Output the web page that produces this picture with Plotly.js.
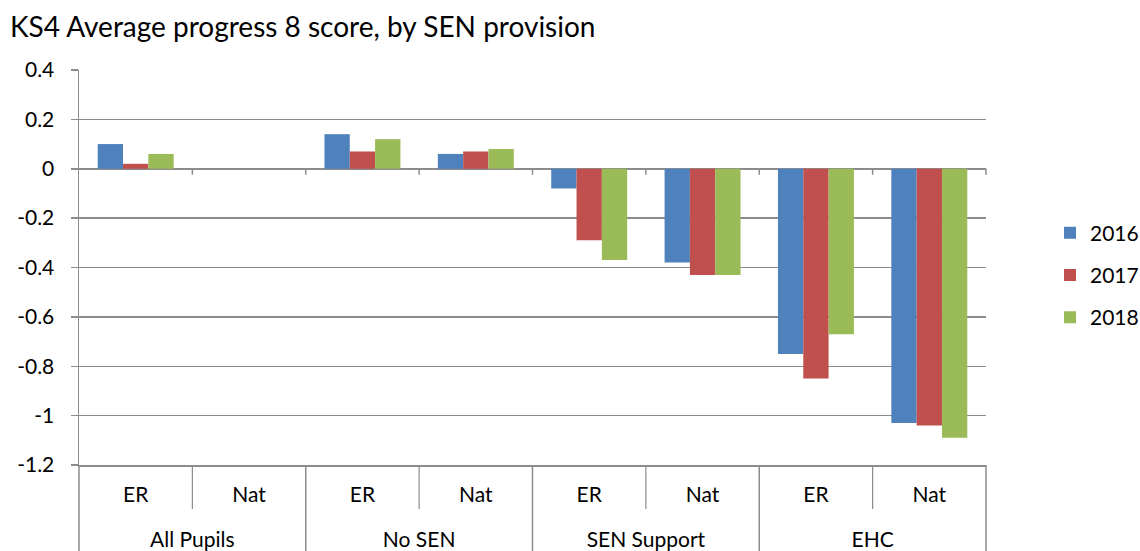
<!DOCTYPE html>
<html>
<head>
<meta charset="utf-8">
<script src="https://cdn.plot.ly/plotly-3.0.1.min.js"></script>
<style>html,body{margin:0;padding:0;background:#fff;}#chart{width:1140px;height:551px;}</style>
</head>
<body>
<div id="chart"></div>
<script>
const groups = ['All Pupils','All Pupils','No SEN','No SEN','SEN Support','SEN Support','EHC','EHC'];
const subCats = ['ER','Nat','ER','Nat','ER','Nat','ER','Nat'];
const years = ['2016','2017','2018'];
const values2016 = [0.10, 0, 0.14, 0.06, -0.08, -0.38, -0.75, -1.03];
const values2017 = [0.02, 0, 0.07, 0.07, -0.29, -0.43, -0.85, -1.04];
const values2018 = [0.06, 0, 0.12, 0.08, -0.37, -0.43, -0.67, -1.09];
const yTicks = [0.4, 0.2, 0, -0.2, -0.4, -0.6, -0.8, -1, -1.2];

const colors = ['#4F81BD', '#C0504D', '#9BBB59'];
const series = [values2016, values2017, values2018];

// unique category keys (group + sub category)
const catKeys = groups.map((g, i) => g + ' | ' + subCats[i]);
const uniqueGroups = groups.filter((g, i) => groups.indexOf(g) === i);

const traces = series.map((vals, i) => ({
  type: 'bar',
  name: years[i],
  legendgroup: years[i],
  x: catKeys,
  y: vals,
  marker: {color: colors[i], line: {width: 0}},
  hoverinfo: 'skip'
}));
// empty helper trace so the outer-group label axis is drawn
traces.push({
  type: 'scatter', mode: 'markers', x: uniqueGroups, y: uniqueGroups.map(() => null),
  xaxis: 'x2', yaxis: 'y', showlegend: false, hoverinfo: 'skip'
});

const W = 1140, H = 551;
const plotTop = 70, plotBottom = 465, innerEnd = 509;
const plotH = H - plotTop; // margin b = 0
const domBottom = (H - plotBottom) / plotH;
const innerFrac = (H - innerEnd) / plotH;

const gray = '#8c8c8c';
const shapes = [];
const nCat = catKeys.length;
for (let k = 0; k <= nCat; k++) {
  if (k > 0) {
    shapes.push({type: 'line', xref: 'paper', yref: 'y', x0: k/nCat, x1: k/nCat,
      ysizemode: 'pixel', yanchor: 0, y0: 0, y1: -6,
      line: {color: gray, width: 1.5}});
  }
  const outer = (k % 2 === 0);
  shapes.push({type: 'line', xref: 'paper', yref: 'paper', x0: k/nCat, x1: k/nCat,
    y0: outer ? 0 : innerFrac, y1: domBottom,
    line: {color: gray, width: outer ? 1.5 : 1.2}});
}

const layout = {
  width: W, height: H,
  margin: {l: 79, r: 154, t: plotTop, b: 0},
  paper_bgcolor: '#fff', plot_bgcolor: '#fff',
  font: {family: 'Lato, "Open Sans", sans-serif', color: '#000', size: 21},
  title: {text: 'KS4 Average progress 8 score, by SEN provision', x: 10/W, xanchor: 'left',
    y: 1 - 27/H, yanchor: 'middle',
    font: {size: 28, color: '#000', family: 'Lato, sans-serif'}},
  barmode: 'group',
  bargap: 0.33,
  bargroupgap: 0,
  showlegend: true,
  legend: {xref: 'container', yref: 'container', x: 1050/W, xanchor: 'left', y: 1 - 275/H, yanchor: 'middle',
    font: {size: 21}, tracegroupgap: 12, traceorder: 'grouped', itemwidth: 30},
  xaxis: {
    type: 'category',
    tickvals: catKeys,
    ticktext: subCats,
    showgrid: false,
    showline: true, linecolor: gray, linewidth: 1.5,
    zeroline: false,
    ticks: '',
    ticklabelstandoff: 10,
    tickfont: {size: 21, color: '#000'}
  },
  xaxis2: {
    type: 'category',
    overlaying: 'x',
    anchor: 'free',
    position: (H - 525) / plotH,
    range: [-0.5, uniqueGroups.length - 0.5],
    showgrid: false, zeroline: false, showline: false, ticks: '',
    tickfont: {size: 21, color: '#000'},
    side: 'bottom'
  },
  yaxis: {
    domain: [domBottom, 1],
    range: [-1.2, 0.4],
    tickvals: yTicks,
    ticktext: yTicks.map(v => String(v)),
    showgrid: true, gridcolor: gray, gridwidth: 1.5,
    zeroline: true, zerolinecolor: gray, zerolinewidth: 1.5,
    showline: true, linecolor: gray, linewidth: 1.5,
    ticks: 'outside', ticklen: 7, tickcolor: gray, tickwidth: 1.5,
    ticklabelstandoff: 12,
    tickfont: {size: 21, color: '#000'}
  },
  shapes: shapes
};

Plotly.newPlot('chart', traces, layout, {displayModeBar: false, staticPlot: true});
</script>
</body>
</html>
